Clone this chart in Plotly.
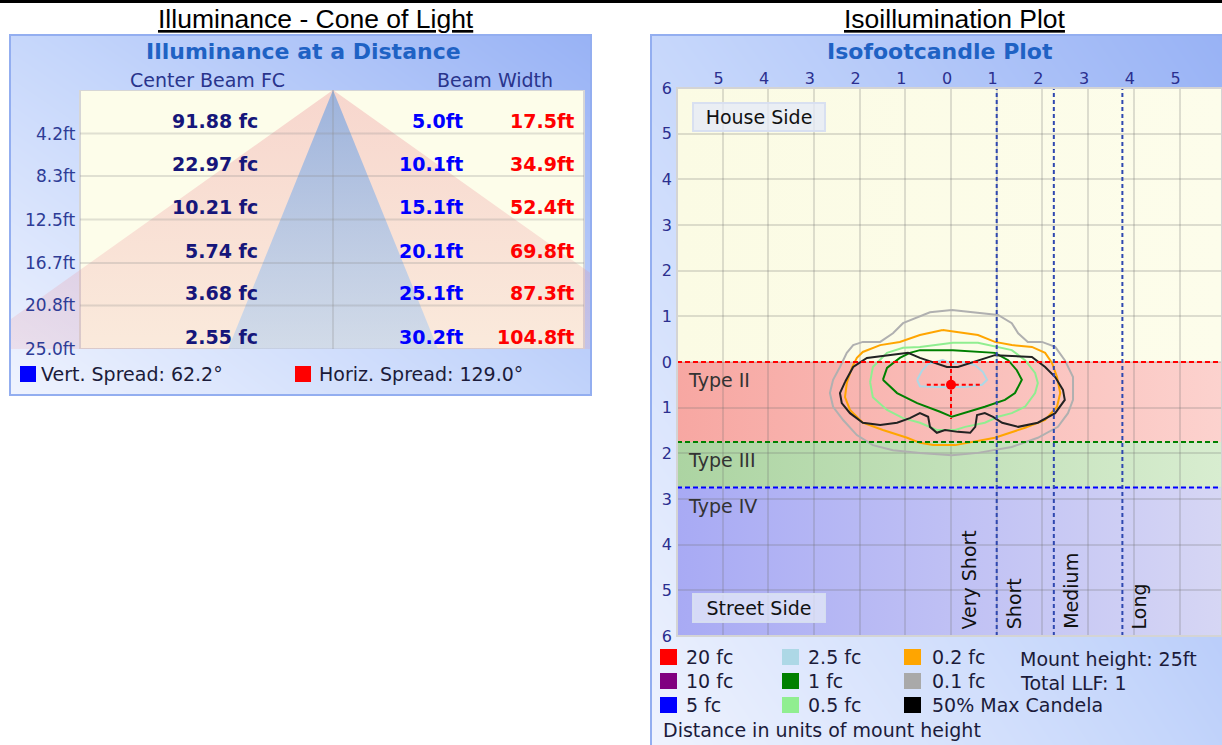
import plotly.graph_objects as go

W, H = 1222, 745
FONT = "DejaVu Sans"

# ---------------- data : left panel (cone of light) ----------------
distance_ft = [4.2, 8.3, 12.5, 16.7, 20.8, 25.0]
center_beam_fc = [91.88, 22.97, 10.21, 5.74, 3.68, 2.55]
vert_beam_width_ft = [5.0, 10.1, 15.1, 20.1, 25.1, 30.2]
horiz_beam_width_ft = [17.5, 34.9, 52.4, 69.8, 87.3, 104.8]
vert_spread_deg = 62.2
horiz_spread_deg = 129.0

# ---------------- data : right panel (isofootcandle plot) ----------------
iso_ticks = [-6, -5, -4, -3, -2, -1, 0, 1, 2, 3, 4, 5, 6]
lateral_class_names = ["Type II", "Type III", "Type IV"]
lateral_class_start = [0.0, -1.75, -2.75]
longitudinal_class_names = ["Very Short", "Short", "Medium", "Long"]
longitudinal_class_start = [0.0, 1.0, 2.25, 3.75]

iso_01fc_x = [0.02, 0.59, 1.03, 1.33, 1.47, 1.68, 1.99, 2.28, 2.49, 2.67, 2.67, 2.56, 2.34, 1.90, 1.33, 0.59,
              0.02, -0.68, -1.27, -1.71, -2.06, -2.36, -2.58, -2.65, -2.58, -2.43, -2.28, -2.14, -1.93, -1.55,
              -1.27, -1.05, -0.46]
iso_01fc_y = [1.14, 1.07, 1.03, 0.85, 0.63, 0.44, 0.44, 0.33, 0.04, -0.33, -0.83, -1.12, -1.42, -1.66, -1.86,
              -1.99, -2.04, -1.99, -1.93, -1.82, -1.60, -1.27, -0.98, -0.68, -0.39, -0.11, 0.20, 0.37, 0.44,
              0.44, 0.63, 0.85, 1.09]
iso_02fc_x = [-0.18, 0.59, 0.96, 1.33, 1.77, 2.06, 2.21, 2.32, 2.39, 2.32, 2.06, 1.62, 0.96, 0.09, -0.39, -0.68,
              -0.96, -1.49, -1.93, -2.21, -2.32, -2.28, -2.17, -2.06, -1.93, -1.55, -1.12, -0.68]
iso_02fc_y = [0.70, 0.59, 0.44, 0.37, 0.33, 0.20, -0.02, -0.33, -0.68, -0.98, -1.27, -1.44, -1.66, -1.82, -1.82,
              -1.77, -1.66, -1.49, -1.33, -1.05, -0.77, -0.46, -0.13, 0.09, 0.22, 0.37, 0.44, 0.59]
iso_05fc_x = [-1.77, -1.71, -1.40, -1.05, -0.68, 0.04, 0.59, 1.33, 1.62, 1.84, 1.90, 1.84, 1.62, 1.33, 1.03, 0.74,
              0.31, 0.09, -0.31, -0.68, -1.05, -1.40, -1.71]
iso_05fc_y = [-0.44, -0.11, 0.20, 0.31, 0.33, 0.42, 0.42, 0.26, 0.04, -0.24, -0.46, -0.68, -0.98, -1.12, -1.20,
              -1.33, -1.42, -1.49, -1.49, -1.33, -1.23, -1.05, -0.77]
iso_1fc_x = [-1.49, -1.40, -1.12, -0.90, -0.68, 0.04, 0.96, 1.25, 1.44, 1.55, 1.40, 1.18, 0.74, 0.31, 0.02, -0.24,
             -0.74, -1.18, -1.40]
iso_1fc_y = [-0.39, -0.13, 0.09, 0.20, 0.26, 0.26, 0.20, 0.04, -0.18, -0.39, -0.68, -0.83, -0.98, -1.12, -1.20,
             -1.09, -0.90, -0.68, -0.46]
iso_25fc_x = [-0.74, -0.63, -0.50, -0.18, 0.02, 0.24, 0.53, 0.70, 0.79, 0.68, 0.31, 0.02, -0.35, -0.68]
iso_25fc_y = [-0.39, -0.18, -0.04, 0.04, -0.04, 0.00, -0.07, -0.22, -0.39, -0.50, -0.55, -0.55, -0.55, -0.53]
half_max_cd_x = [-2.32, -2.14, -1.84, -1.40, -0.94, -0.68, -0.39, -0.09, 0.15, 0.59, 0.96, 1.77, 2.06, 2.28, 2.45,
                 2.49, 2.28, 1.90, 1.47, 1.12, 0.92, 0.74, 0.57, 0.53, 0.42, 0.15, -0.13, -0.31, -0.46, -0.50,
                 -0.68, -0.90, -1.18, -1.55, -1.93, -2.21, -2.39, -2.43]
half_max_cd_y = [-0.44, -0.11, 0.09, 0.15, 0.20, 0.09, 0.00, -0.11, -0.11, 0.04, 0.15, 0.11, -0.11, -0.33, -0.61,
                 -0.83, -1.12, -1.33, -1.42, -1.33, -1.20, -1.12, -1.16, -1.42, -1.55, -1.53, -1.49, -1.55, -1.42,
                 -1.20, -1.12, -1.23, -1.33, -1.38, -1.33, -1.12, -0.90, -0.68]
max_cd_x = 0.0
max_cd_y = -0.5
max_cd_cross_x = [-0.53, 0.63]
max_cd_cross_y = [0.0, -1.25]

legend_labels = ["20 fc", "10 fc", "5 fc", "2.5 fc", "1 fc", "0.5 fc", "0.2 fc", "0.1 fc", "50% Max Candela"]
legend_colors = ["#ff0000", "#800080", "#0000ff", "#add8e6", "#008000", "#90ee90", "#ffa500", "#a9a9a9", "#000000"]
mount_height_ft = 25
total_llf = 1

# ---------------- geometry helpers (pixel -> paper) ----------------
def PX(x):
    return x / W


def PY(y):
    return 1 - y / H


# iso plot frame: origin at (951, 362), 45.7 px per mounting height
ISO_O = (951.0, 362.0)
ISO_U = 45.7
iso_xr = [(677 - ISO_O[0]) / ISO_U, (W - ISO_O[0]) / ISO_U]
iso_yr = [-6, 6]
iso_dx = [PX(677), 1.0]
iso_dy = [PY(636), PY(88)]

# cone plot frame: apex at x=333 px, 6.95 px per ft horizontally
CONE_CX = 333.0
CONE_S = 6.95
cone_xr = [(11 - CONE_CX) / CONE_S, (590 - CONE_CX) / CONE_S]
inner_l = (80 - CONE_CX) / CONE_S
inner_r = (584 - CONE_CX) / CONE_S

fig = go.Figure()

# ---------------- panel backgrounds (diagonal gradients) ----------------
bg_scale = [[0, "#eff3fe"], [0.5, "#c5d6fb"], [1, "#98b2f5"]]
for xa, ya in [("x", "y"), ("x2", "y2")]:
    fig.add_trace(go.Heatmap(z=[[0, 0.55], [0.48, 1]], x=[0, 1], y=[0, 1], zsmooth="best",
                             colorscale=bg_scale, zmin=0, zmax=1, showscale=False,
                             hoverinfo="skip", xaxis=xa, yaxis=ya))

# ---------------- iso plot classification bands (subplot x3) ----------------
band_tops = [iso_yr[1]] + lateral_class_start
band_bottoms = lateral_class_start + [iso_yr[0]]
band_scales = [
    [[0, "#fbfbe4"], [1, "#fdfdeb"]],
    [[0, "#f7a7a2"], [1, "#fcd2ce"]],
    [[0, "#acd4a2"], [1, "#d8edd0"]],
    [[0, "#a8aaf4"], [1, "#d6d6f4"]],
]
for top, bot, cs in zip(band_tops, band_bottoms, band_scales):
    fig.add_trace(go.Scatter(
        x=[iso_xr[0], iso_xr[1], iso_xr[1], iso_xr[0], iso_xr[0]],
        y=[top, top, bot, bot, top], mode="lines", line=dict(width=0), fill="toself",
        fillgradient=dict(type="horizontal", colorscale=cs, start=iso_xr[0], stop=iso_xr[1]),
        hoverinfo="skip", xaxis="x3", yaxis="y3"))

# ---------------- cone of light (subplot x4) ----------------
h_half = horiz_beam_width_ft[-1] / 2
v_half = vert_beam_width_ft[-1] / 2
dmax = distance_ft[-1]
fig.add_trace(go.Scatter(
    x=[-h_half, 0, h_half, -h_half], y=[dmax, 0, dmax, dmax], mode="lines", line=dict(width=0),
    fill="toself",
    fillgradient=dict(type="vertical", colorscale=[[0, "rgba(236,140,150,0.34)"], [1, "rgba(236,140,150,0.17)"]],
                      start=0, stop=dmax),
    hoverinfo="skip", xaxis="x4", yaxis="y4"))
fig.add_trace(go.Scatter(
    x=[-v_half, 0, v_half, -v_half], y=[dmax, 0, dmax, dmax], mode="lines", line=dict(width=0),
    fill="toself",
    fillgradient=dict(type="vertical", colorscale=[[0, "rgba(140,172,222,0.85)"], [1, "rgba(185,210,240,0.62)"]],
                      start=0, stop=dmax),
    hoverinfo="skip", xaxis="x4", yaxis="y4"))

# ---------------- isofootcandle contours (subplot x5) ----------------
def closed(xs, ys):
    return list(xs) + [xs[0]], list(ys) + [ys[0]]


for xs, ys, col in [(iso_01fc_x, iso_01fc_y, "#b0b0b0"), (iso_02fc_x, iso_02fc_y, "#ffa500"),
                    (iso_05fc_x, iso_05fc_y, "#90ee90"), (iso_1fc_x, iso_1fc_y, "#008000"),
                    (iso_25fc_x, iso_25fc_y, "#add8e6"), (half_max_cd_x, half_max_cd_y, "#222222")]:
    cx, cy = closed(xs, ys)
    fig.add_trace(go.Scatter(x=cx, y=cy, mode="lines", line=dict(color=col, width=2),
                             hoverinfo="skip", xaxis="x5", yaxis="y5"))

fig.add_trace(go.Scatter(x=max_cd_cross_x, y=[max_cd_y, max_cd_y], mode="lines",
                         line=dict(color="#ff0000", width=2, dash="4px,3px"), hoverinfo="skip",
                         xaxis="x5", yaxis="y5"))
fig.add_trace(go.Scatter(x=[max_cd_x, max_cd_x], y=max_cd_cross_y, mode="lines",
                         line=dict(color="#ff0000", width=2, dash="4px,3px"), hoverinfo="skip",
                         xaxis="x5", yaxis="y5"))
fig.add_trace(go.Scatter(x=[max_cd_x], y=[max_cd_y], mode="markers",
                         marker=dict(color="#ff0000", size=10), hoverinfo="skip", xaxis="x5", yaxis="y5"))

# ---------------- shapes ----------------
shapes = []
# top rule
shapes.append(dict(type="rect", xref="paper", yref="paper", x0=0, x1=1, y0=PY(3), y1=PY(0),
                   fillcolor="black", line=dict(width=0), layer="above"))
# panel borders
shapes.append(dict(type="rect", xref="paper", yref="paper", x0=PX(10), x1=PX(591), y0=PY(395), y1=PY(35),
                   line=dict(color="#93aef0", width=2), layer="above"))
shapes.append(dict(type="rect", xref="paper", yref="paper", x0=PX(651), x1=PX(1230), y0=PY(748), y1=PY(35),
                   line=dict(color="#93aef0", width=2), layer="above"))
# cone inner area
shapes.append(dict(type="rect", xref="x4", yref="y4", x0=inner_l, x1=inner_r, y0=0, y1=dmax,
                   fillcolor="#fdfdea", line=dict(color="#d6d6d6", width=2), layer="below"))
for d in distance_ft[:-1]:
    shapes.append(dict(type="line", xref="x4", yref="y4", x0=inner_l, x1=inner_r, y0=d, y1=d,
                       line=dict(color="rgba(140,140,140,0.25)", width=2), layer="above"))
shapes.append(dict(type="line", xref="x4", yref="y4", x0=0, x1=0, y0=0, y1=dmax,
                   line=dict(color="rgba(140,140,140,0.25)", width=2), layer="above"))
# iso plot classification lines
for yv, col in zip(lateral_class_start, ["#ff0000", "#008000", "#0000ff"]):
    shapes.append(dict(type="line", xref="x5 domain", yref="y5", x0=0, x1=1, y0=yv, y1=yv,
                       line=dict(color=col, width=2, dash="5px,3px"), layer="above"))
for xv in longitudinal_class_start[1:]:
    shapes.append(dict(type="line", xref="x5", yref="y5 domain", x0=xv, x1=xv, y0=0, y1=1,
                       line=dict(color="#2f48b0", width=2, dash="4px,3px"), layer="above"))
shapes.append(dict(type="rect", xref="x5 domain", yref="y5 domain", x0=0, x1=1, y0=0, y1=1,
                   line=dict(color="#d4d4d4", width=2), layer="above"))
# legend squares
shapes.append(dict(type="rect", xref="paper", yref="paper", x0=PX(20), x1=PX(36), y0=PY(382), y1=PY(366),
                   fillcolor="#0000ff", line=dict(width=0)))
shapes.append(dict(type="rect", xref="paper", yref="paper", x0=PX(295), x1=PX(311), y0=PY(382), y1=PY(366),
                   fillcolor="#ff0000", line=dict(width=0)))
col_sq = [660, 782, 904]
row_c = [657, 681, 705]
for i, col in enumerate(legend_colors):
    cx, cy = col_sq[i // 3], row_c[i % 3]
    shapes.append(dict(type="rect", xref="paper", yref="paper", x0=PX(cx), x1=PX(cx + 17),
                       y0=PY(cy + 8), y1=PY(cy - 8), fillcolor=col, line=dict(width=0)))

# ---------------- annotations ----------------
anns = []


def ann(text, x, y, size=19, color="#1b1b3a", xanchor="left", yanchor="middle", family=FONT, **kw):
    d = dict(text=text, x=PX(x), y=PY(y), xref="paper", yref="paper", showarrow=False,
             xanchor=xanchor, yanchor=yanchor, font=dict(family=family, size=size, color=color))
    d.update(kw)
    return d


anns.append(ann("<u>Illuminance - Cone of Light</u>", 316, 19, size=26.5, color="black",
                xanchor="center", family="Liberation Sans"))
anns.append(ann("<u>Isoillumination Plot</u>", 955, 19, size=26.5, color="black",
                xanchor="center", family="Liberation Sans"))
anns.append(ann("<b>Illuminance at a Distance</b>", 303, 52, size=22, color="#1f62c4", xanchor="center"))
anns.append(ann("<b>Isofootcandle Plot</b>", 940, 52, size=22, color="#1f62c4", xanchor="center"))
anns.append(ann("Center Beam FC", 207, 80, size=19, color="#29348c", xanchor="center"))
anns.append(ann("Beam Width", 495, 80, size=19, color="#29348c", xanchor="center"))

FC_X = (260 - CONE_CX) / CONE_S
VW_X = (465 - CONE_CX) / CONE_S
HW_X = (576 - CONE_CX) / CONE_S
ROW_UP = 1.2
for d, fc, vw, hw in zip(distance_ft, center_beam_fc, vert_beam_width_ft, horiz_beam_width_ft):
    base = dict(xref="x4", yref="y4", showarrow=False, xanchor="right", yanchor="middle")
    anns.append(dict(text=f"<b>{fc:.2f} fc</b>", x=FC_X, y=d - ROW_UP,
                     font=dict(family=FONT, size=19, color="#16167a"), **base))
    anns.append(dict(text=f"<b>{vw:.1f}ft</b>", x=VW_X, y=d - ROW_UP,
                     font=dict(family=FONT, size=19, color="#0000ff"), **base))
    anns.append(dict(text=f"<b>{hw:.1f}ft</b>", x=HW_X, y=d - ROW_UP,
                     font=dict(family=FONT, size=19, color="#ff0000"), **base))
    anns.append(dict(text=f"{d:.1f}ft", x=inner_l, y=d, xshift=-2,
                     font=dict(family=FONT, size=17, color="#2e3c96"), **base))

anns.append(ann(f"Vert. Spread: {vert_spread_deg:.1f}°", 39, 374, size=19))
anns.append(ann(f"Horiz. Spread: {horiz_spread_deg:.1f}°", 317, 374, size=19))

# iso plot labels
for name, start in zip(lateral_class_names, lateral_class_start):
    anns.append(dict(text=name, x=0, y=start, xref="x5 domain", yref="y5", xanchor="left", yanchor="top",
                     xshift=9, yshift=-5, showarrow=False, font=dict(family=FONT, size=19, color="#333333")))
for name, start in zip(longitudinal_class_names, longitudinal_class_start):
    anns.append(dict(text=name, x=start, y=0, xref="x5", yref="y5 domain", xanchor="left", yanchor="bottom",
                     xshift=4, yshift=5, textangle=-90, showarrow=False,
                     font=dict(family=FONT, size=19, color="#111111")))
box = dict(showarrow=False, bgcolor="rgba(228,234,248,0.75)", bordercolor="rgba(215,222,240,0.95)",
           borderwidth=2, borderpad=1, width=128, height=24, align="center",
           font=dict(family=FONT, size=19, color="#111111"))
anns.append(dict(text="House Side", x=0, y=1, xref="x5 domain", yref="y5 domain", xanchor="left",
                 yanchor="top", xshift=15, yshift=-14, **box))
anns.append(dict(text="Street Side", x=0, y=0, xref="x5 domain", yref="y5 domain", xanchor="left",
                 yanchor="bottom", xshift=15, yshift=13, **box))

# iso legend
txt_x = [684, 806, 930]
for i, lab in enumerate(legend_labels):
    anns.append(ann(lab, txt_x[i // 3], row_c[i % 3], size=19))
anns.append(ann(f"Mount height: {mount_height_ft}ft", 1018, 659, size=19))
anns.append(ann(f"Total LLF: {total_llf}", 1018, 683, size=19))
anns.append(ann("Distance in units of mount height", 661, 730, size=19))

hidden = dict(visible=False, fixedrange=True, automargin=False)
tickfont = dict(family=FONT, size=16, color="#2b2f8f")
fig.update_layout(
    width=W, height=H, margin=dict(l=0, r=0, t=0, b=0, pad=0, autoexpand=False),
    showlegend=False, autosize=False,
    paper_bgcolor="white", plot_bgcolor="rgba(0,0,0,0)",
    xaxis=dict(domain=[PX(10), PX(591)], range=[0, 1], anchor="y", **hidden),
    yaxis=dict(domain=[PY(395), PY(35)], range=[0, 1], anchor="x", **hidden),
    xaxis2=dict(domain=[PX(651), 1], range=[0, 1], anchor="y2", **hidden),
    yaxis2=dict(domain=[0, PY(35)], range=[0, 1], anchor="x2", **hidden),
    xaxis3=dict(domain=iso_dx, range=iso_xr, anchor="y3", **hidden),
    yaxis3=dict(domain=iso_dy, range=iso_yr, anchor="x3", **hidden),
    xaxis4=dict(domain=[PX(11), PX(590)], range=cone_xr, anchor="y4", **hidden),
    yaxis4=dict(domain=[PY(349), PY(90)], range=[dmax, 0], anchor="x4", **hidden),
    xaxis5=dict(domain=iso_dx, range=iso_xr, anchor="y5", side="top", fixedrange=True, automargin=False,
                tickvals=iso_ticks[1:-1], ticktext=[str(abs(t)) for t in iso_ticks[1:-1]],
                showgrid=True, gridcolor="rgba(110,110,110,0.22)", gridwidth=2, zeroline=False,
                showline=False, ticks="", tickfont=tickfont, ticklabelshift=-4),
    yaxis5=dict(domain=iso_dy, range=iso_yr, anchor="x5", fixedrange=True, automargin=False,
                tickvals=iso_ticks, ticktext=[str(abs(t)) for t in iso_ticks],
                showgrid=True, gridcolor="rgba(110,110,110,0.22)", gridwidth=2, zeroline=False,
                showline=False, ticks="", tickfont=tickfont, ticklabelstandoff=4),
    shapes=shapes, annotations=anns,
)

pin_js = ("document.documentElement.style.margin='0';document.body.style.margin='0';"
          "document.body.style.overflow='hidden';")
fig.write_html("out.html", post_script=pin_js, config={"displayModeBar": False, "responsive": False})
